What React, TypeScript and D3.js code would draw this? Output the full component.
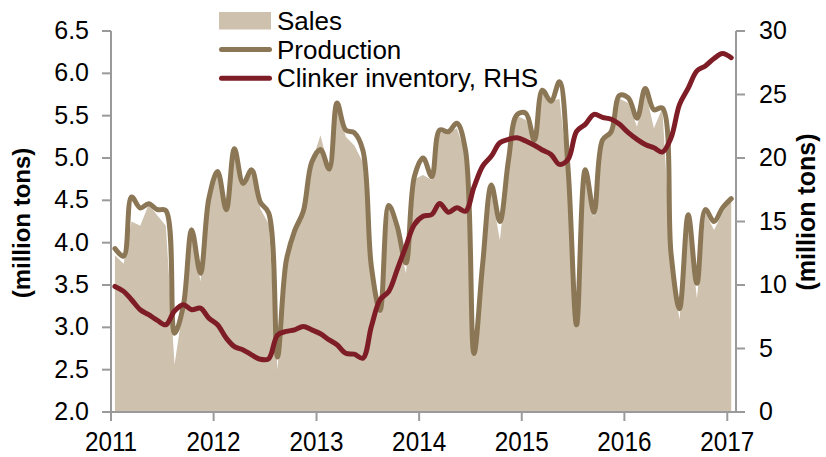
import * as d3 from 'd3';
import React, { useRef, useEffect } from 'react';

// monthly values, Jan 2011 .. Jan 2017
const months = d3.range(73).map(i => new Date(2011, i, 15));

const sales = [
    3.85, 3.75, 4.25, 4.2, 4.45, 4.32, 4.2, 2.56, 3.25, 4.2, 3.54, 4.5,
    4.84, 4.37, 5.1, 4.7, 4.86, 4.4, 4.22, 2.5, 3.8, 4.1, 4.35, 4.95,
    5.27, 4.87, 5.65, 5.25, 5.15, 4.95, 3.72, 3.15, 4.4, 4.1, 3.64, 4.75,
    4.8, 4.74, 5.3, 5.3, 5.35, 5.05, 2.69, 3.7, 4.6, 4.03, 4.95, 5.5,
    5.45, 5.2, 5.8, 5.67, 5.7, 4.8, 3.0, 4.8, 4.3, 5.2, 5.3, 5.7,
    5.65, 5.37, 5.8, 5.35, 5.59, 3.8, 3.09, 4.3, 3.34, 4.35, 4.15, 4.35,
    4.5
];

const production = [
    3.93, 3.84, 4.54, 4.41, 4.46, 4.39, 4.38, 2.93, 3.25, 4.15, 3.64, 4.52,
    4.84, 4.39, 5.11, 4.7, 4.86, 4.48, 4.35, 2.65, 3.78, 4.14, 4.37, 4.95,
    5.1, 4.87, 5.65, 5.33, 5.3, 5.09, 3.72, 3.2, 4.44, 4.19, 3.76, 4.78,
    5.0, 4.78, 5.33, 5.31, 5.41, 5.09, 2.69, 3.75, 4.68, 4.25, 4.98, 5.51,
    5.53, 5.21, 5.8, 5.67, 5.9, 4.86, 3.03, 4.86, 4.36, 5.21, 5.31, 5.74,
    5.71, 5.47, 5.82, 5.57, 5.59, 3.87, 3.22, 4.33, 3.52, 4.39, 4.25, 4.41,
    4.52
];

const inventory = [
    9.89, 9.5, 8.84, 8.05, 7.66, 7.21, 6.87, 7.95, 8.45, 8.05, 8.18, 7.39,
    6.87, 5.82, 5.15, 4.89, 4.5, 4.15, 4.2, 6.05, 6.34, 6.47, 6.73, 6.47,
    6.16, 5.68, 5.29, 4.63, 4.55, 4.24, 6.73, 8.84, 9.5, 11.21, 13.05, 14.76,
    15.41, 15.55, 16.42, 15.73, 16.08, 15.81, 17.7, 19.36, 20.15, 21.2, 21.47, 21.6,
    21.34, 21.0, 20.63, 20.28, 19.5, 19.9, 22.1, 22.65, 23.44, 23.2, 23.05, 22.65,
    22.0, 21.47, 21.07, 20.8, 20.47, 21.6, 24.2, 25.5, 26.86, 27.25, 27.84, 28.23,
    27.9
];

const yearTicks = [2011, 2012, 2013, 2014, 2015, 2016, 2017];
const leftTicks = [2.0, 2.5, 3.0, 3.5, 4.0, 4.5, 5.0, 5.5, 6.0, 6.5];
const rightTicks = [0, 5, 10, 15, 20, 25, 30];
const legendLabels = ['Sales', 'Production', 'Clinker inventory, RHS'];
const yTitle = '(million tons)';

const colors = {
    sales: '#cec1ad',
    production: '#8b7755',
    inventory: '#7f1d27',
    axis: '#9a9a9a'
};

const font = "'Liberation Sans', Arial, sans-serif";

function App() {
    const ref = useRef(null);

    useEffect(() => {
        const svg = d3.select(ref.current);
        svg.selectAll('*').remove();

        const x = d3.scaleTime()
            .domain([new Date(2011, 0, 1), new Date(2017, 1, 1)])
            .range([111, 736]);

        const yL = d3.scaleLinear().domain([2, 6.5]).range([412, 31]);
        const yR = d3.scaleLinear().domain([0, 30]).range([412, 31]);

        const rows = months.map((d, i) => ({
            date: d,
            sales: sales[i],
            production: production[i],
            inventory: inventory[i]
        }));

        const area = d3.area()
            .x(d => x(d.date))
            .y0(yL(2))
            .y1(d => yL(d.sales));

        svg.append('path')
            .datum(rows)
            .attr('fill', colors.sales)
            .attr('d', area);

        const prodLine = d3.line()
            .x(d => x(d.date))
            .y(d => yL(d.production))
            .curve(d3.curveCatmullRom.alpha(0.5));

        const invLine = d3.line()
            .x(d => x(d.date))
            .y(d => yR(d.inventory))
            .curve(d3.curveCatmullRom.alpha(0.5));

        // axes
        const styleAxis = (g, size) => {
            g.selectAll('path.domain').attr('stroke', colors.axis).attr('stroke-width', 2);
            g.selectAll('.tick line').attr('stroke', colors.axis).attr('stroke-width', 2);
            g.selectAll('.tick text')
                .attr('fill', '#000')
                .style('font-family', font)
                .style('font-size', size + 'px');
        };

        const leftAxis = d3.axisLeft(yL)
            .tickValues(leftTicks)
            .tickFormat(d3.format('.1f'))
            .tickSize(9)
            .tickSizeOuter(0)
            .tickPadding(13)
            .offset(0);

        const rightAxis = d3.axisRight(yR)
            .tickValues(rightTicks)
            .tickSize(9)
            .tickSizeOuter(0)
            .tickPadding(14)
            .offset(0);

        const bottomAxis = d3.axisBottom(x)
            .tickValues(yearTicks.map(y => new Date(y, 0, 1)))
            .tickFormat(d3.timeFormat('%Y'))
            .tickSize(9)
            .tickSizeOuter(0)
            .tickPadding(11)
            .offset(0);

        // year labels are set narrow in the original
        svg.append('g')
            .attr('transform', 'translate(0,412)')
            .call(bottomAxis)
            .call(g => styleAxis(g, 27))
            .call(g => g.selectAll('.tick text')
                .attr('transform', 'scale(0.9,1)'));

        svg.append('g')
            .attr('transform', 'translate(111,0)')
            .call(leftAxis)
            .call(g => styleAxis(g, 25));

        svg.append('g')
            .attr('transform', 'translate(736,0)')
            .call(rightAxis)
            .call(g => styleAxis(g, 25));

        svg.append('path')
            .datum(rows)
            .attr('fill', 'none')
            .attr('stroke', colors.production)
            .attr('stroke-width', 5)
            .attr('stroke-linejoin', 'round')
            .attr('stroke-linecap', 'round')
            .attr('d', prodLine);

        svg.append('path')
            .datum(rows)
            .attr('fill', 'none')
            .attr('stroke', colors.inventory)
            .attr('stroke-width', 5)
            .attr('stroke-linejoin', 'round')
            .attr('stroke-linecap', 'round')
            .attr('d', invLine);

        // axis titles
        svg.append('text')
            .attr('transform', 'translate(30,223) rotate(-90)')
            .attr('text-anchor', 'middle')
            .style('font-family', font)
            .style('font-size', '24px')
            .style('font-weight', 'bold')
            .text(yTitle);

        svg.append('text')
            .attr('transform', 'translate(815,212) rotate(-90)')
            .attr('text-anchor', 'middle')
            .style('font-family', font)
            .style('font-size', '25px')
            .style('font-weight', 'bold')
            .text(yTitle);

        // legend
        const legend = svg.append('g').attr('transform', 'translate(219,21)');
        const rowH = 28.6;

        legend.append('rect')
            .attr('x', 0)
            .attr('y', -9)
            .attr('width', 52)
            .attr('height', 17.5)
            .attr('fill', colors.sales);

        [colors.production, colors.inventory].forEach((c, i) => {
            legend.append('line')
                .attr('x1', 2.5)
                .attr('x2', 50.5)
                .attr('y1', rowH * (i + 1))
                .attr('y2', rowH * (i + 1))
                .attr('stroke', c)
                .attr('stroke-width', 5)
                .attr('stroke-linecap', 'round');
        });

        legend.selectAll('text.lg')
            .data(legendLabels)
            .enter()
            .append('text')
            .attr('class', 'lg')
            .attr('x', 58)
            .attr('y', (d, i) => rowH * i + 9)
            .style('font-family', font)
            .style('font-size', '26px')
            .text(d => d);

    }, []);

    return (
        <svg ref={ref} width={826} height={457}
             style={{ position: 'absolute', left: 0, top: 0, background: '#fff' }} />
    );
}

export default App;
